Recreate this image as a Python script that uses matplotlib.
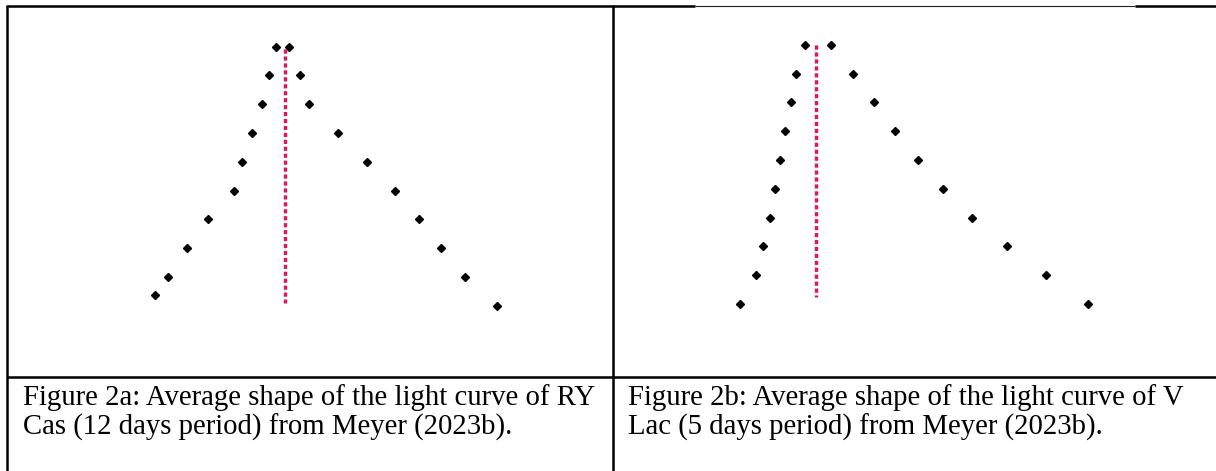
import matplotlib
matplotlib.use("Agg")
import matplotlib.pyplot as plt
from matplotlib.lines import Line2D

# Light curve shapes.
# x: time from maximum (arbitrary units), y: brightness (arbitrary units)
ry_rise_x = [-13.07, -11.71, -9.84, -7.74, -5.13, -4.36, -3.31, -2.37, -1.67, -0.89]
ry_rise_y = [1.39, 2, 3, 4, 5, 6, 7, 8, 9, 10]
ry_fall_x = [0.35, 1.44, 2.34, 5.25, 8.21, 11.01, 13.39, 15.60, 17.94, 21.21]
ry_fall_y = [10, 9, 8, 7, 6, 5, 4, 3, 2, 1]
ry_max_line = [9.92, 1.11]

vlac_rise_x = [-7.60, -6.00, -5.30, -4.64, -4.13, -3.58, -3.12, -2.53, -1.99, -1.09]
vlac_rise_y = [1, 2, 3, 4, 5, 6, 7, 8, 9, 10]
vlac_fall_x = [1.48, 3.67, 5.77, 7.88, 10.13, 12.71, 15.59, 19.06, 22.96, 27.13]
vlac_fall_y = [10, 9, 8, 7, 6, 5, 4, 3, 2, 1]
vlac_max_line = [9.98, 1.23]

captions = [
    ["Figure 2a: Average shape of the light curve of RY",
     "Cas (12 days period) from Meyer (2023b)."],
    ["Figure 2b: Average shape of the light curve of V",
     "Lac (5 days period) from Meyer (2023b)."],
]

W, H = 1216, 471
fig = plt.figure(figsize=(W / 100, H / 100), dpi=100)


def px_rect(x0, y0, x1, y1):
    # pixel box (top-left origin) -> figure fraction rect
    return [x0 / W, 1 - y1 / H, (x1 - x0) / W, (y1 - y0) / H]


def draw_panel(rect, xlim, ylim, rise_x, rise_y, fall_x, fall_y, line_y):
    ax = fig.add_axes(rect)
    ax.set_xlim(*xlim)
    ax.set_ylim(*ylim)
    ax.axis("off")
    ax.plot([0, 0], line_y, color="#D81B5C", lw=2.5,
            linestyle=(0, (1.2, 0.8)), solid_capstyle="butt", zorder=1)
    ax.plot(rise_x + fall_x, rise_y + fall_y, "D", color="black",
            markersize=4.3, zorder=2)
    return ax


draw_panel(px_rect(7, 6, 612, 377), (-27.82, 32.68), (-1.469, 11.413),
           ry_rise_x, ry_rise_y, ry_fall_x, ry_fall_y, ry_max_line)
draw_panel(px_rect(612, 6, 1216, 377), (-20.42, 39.98), (-1.538, 11.344),
           vlac_rise_x, vlac_rise_y, vlac_fall_x, vlac_fall_y, vlac_max_line)


# Table borders
def hline(x0, x1, y, lw=1.8, color="black"):
    fig.add_artist(Line2D([x0 / W, x1 / W], [1 - y / H, 1 - y / H],
                          color=color, lw=lw, solid_capstyle="butt"))


def vline(x, y0, y1, lw=1.8):
    fig.add_artist(Line2D([x / W, x / W], [1 - y0 / H, 1 - y1 / H],
                          color="black", lw=lw, solid_capstyle="butt"))


hline(6.5, 695, 6)
hline(695, 1135, 6, lw=0.8, color="#222222")
hline(1135, 1216, 6)
hline(6.5, 1216, 377)
vline(7.3, 5.2, 471)
vline(612.7, 5.2, 471)

# Captions
for i, x0 in enumerate([23, 628]):
    for j, line in enumerate(captions[i]):
        fig.text(x0 / W, 1 - (405 + 30 * j) / H, line, family="Liberation Serif",
                 fontsize=20.7, va="baseline", ha="left", color="black")

fig.savefig("out.png", dpi=100)
